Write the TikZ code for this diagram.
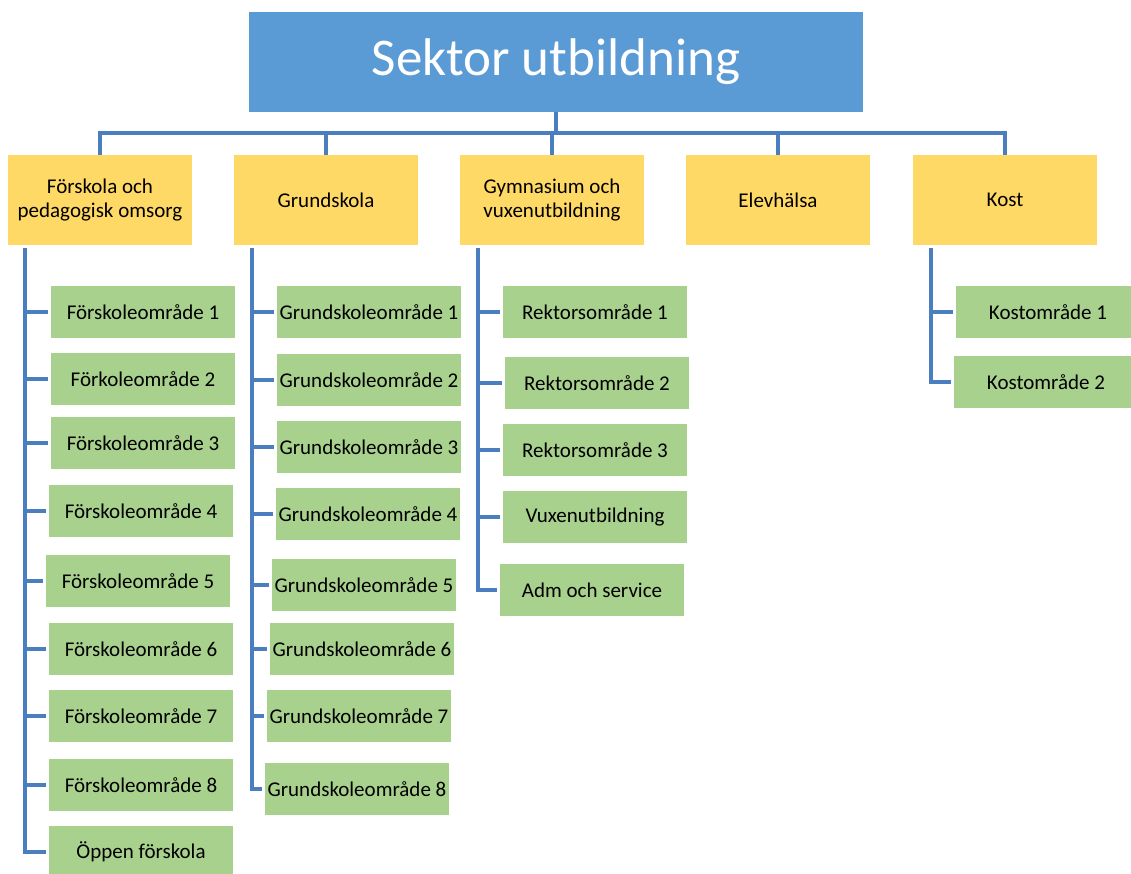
\documentclass[tikz,border=0pt]{standalone}
\usepackage{fontspec}
\setmainfont{Carlito}
\usepackage{tikz}

\definecolor{sektorblue}{RGB}{91,155,213}
\definecolor{enhetgul}{RGB}{255,217,102}
\definecolor{omradegron}{RGB}{169,209,142}
\definecolor{linjeblue}{RGB}{74,126,190}

\begin{document}
\begin{tikzpicture}[x=1pt,y=-1pt,
	sektor/.style={fill=sektorblue,text=white,minimum width=614pt,minimum height=100pt,inner sep=0pt,font=\fontsize{53}{60}\selectfont},
	enhet/.style={fill=enhetgul,minimum width=184pt,minimum height=90pt,inner sep=0pt,align=center,font=\fontsize{21}{24}\selectfont},
	omrade/.style={fill=omradegron,minimum width=184pt,minimum height=52pt,inner sep=0pt,font=\fontsize{21}{24}\selectfont},
	conn/.style={draw=linjeblue,line width=3.3pt,shorten >=2.5pt}]

	\useasboundingbox (0,0) rectangle (1131,874);

	\node[sektor] (top) at (556, 62) {Sektor utbildning};

	\node[enhet] (fsk) at (100, 200) {Förskola och\\pedagogisk omsorg};
	\node[enhet] (gsk) at (326, 200) {Grundskola};
	\node[enhet] (gym) at (552, 200) {Gymnasium och\\vuxenutbildning};
	\node[enhet] (elev) at (778, 200) {Elevhälsa};
	\node[enhet] (kost) at (1005, 200) {Kost};

	\node[omrade] (f1) at (143, 312) {Förskoleområde 1};
	\node[omrade] (f2) at (143, 379) {Förkoleområde 2};
	\node[omrade] (f3) at (143, 443) {Förskoleområde 3};
	\node[omrade] (f4) at (141, 511) {Förskoleområde 4};
	\node[omrade] (f5) at (138, 581) {Förskoleområde 5};
	\node[omrade] (f6) at (141, 649) {Förskoleområde 6};
	\node[omrade] (f7) at (141, 716) {Förskoleområde 7};
	\node[omrade] (f8) at (141, 785) {Förskoleområde 8};
	\node[omrade] (f9) at (141, 852) {Öppen förskola};

	\node[omrade] (g1) at (369, 312) {Grundskoleområde 1};
	\node[omrade] (g2) at (369, 380) {Grundskoleområde 2};
	\node[omrade] (g3) at (369, 447) {Grundskoleområde 3};
	\node[omrade] (g4) at (368, 514) {Grundskoleområde 4};
	\node[omrade] (g5) at (364, 585) {Grundskoleområde 5};
	\node[omrade] (g6) at (362, 649) {Grundskoleområde 6};
	\node[omrade] (g7) at (359, 716) {Grundskoleområde 7};
	\node[omrade] (g8) at (357, 789) {Grundskoleområde 8};

	\node[omrade] (r1) at (595, 312) {Rektorsområde 1};
	\node[omrade] (r2) at (597, 383) {Rektorsområde 2};
	\node[omrade] (r3) at (595, 450) {Rektorsområde 3};
	\node[omrade] (r4) at (595, 517) {Vuxenutbildning};
	\node[omrade] (r5) at (592, 590) {Adm och service};

	\node[omrade] (k1) at (1048, 312) {Kostområde 1};
	\node[omrade] (k2) at (1046, 382) {Kostområde 2};

	\coordinate (bus) at (556, 133);
	\coordinate (fsk-rail) at (25, 248);
	\coordinate (gsk-rail) at (252, 248);
	\coordinate (gym-rail) at (478, 248);
	\coordinate (kost-rail) at (931, 248);

	\path[conn,shorten >=0pt] (top.south) edge (top.south |- bus);
	\draw[conn,shorten >=0pt] (fsk.north) |- (bus) -| (kost.north);
	\path[conn,shorten >=0pt] (gsk.north |- bus) edge (gsk.north);
	\path[conn,shorten >=0pt] (gym.north |- bus) edge (gym.north);
	\path[conn,shorten >=0pt] (elev.north |- bus) edge (elev.north);

	\draw[conn] (fsk-rail) |- (f9.west);
	\path[conn] (f1.west -| fsk-rail) edge (f1.west);
	\path[conn] (f2.west -| fsk-rail) edge (f2.west);
	\path[conn] (f3.west -| fsk-rail) edge (f3.west);
	\path[conn] (f4.west -| fsk-rail) edge (f4.west);
	\path[conn] (f5.west -| fsk-rail) edge (f5.west);
	\path[conn] (f6.west -| fsk-rail) edge (f6.west);
	\path[conn] (f7.west -| fsk-rail) edge (f7.west);
	\path[conn] (f8.west -| fsk-rail) edge (f8.west);

	\draw[conn] (gsk-rail) |- (g8.west);
	\path[conn] (g1.west -| gsk-rail) edge (g1.west);
	\path[conn] (g2.west -| gsk-rail) edge (g2.west);
	\path[conn] (g3.west -| gsk-rail) edge (g3.west);
	\path[conn] (g4.west -| gsk-rail) edge (g4.west);
	\path[conn] (g5.west -| gsk-rail) edge (g5.west);
	\path[conn] (g6.west -| gsk-rail) edge (g6.west);
	\path[conn] (g7.west -| gsk-rail) edge (g7.west);

	\draw[conn] (gym-rail) |- (r5.west);
	\path[conn] (r1.west -| gym-rail) edge (r1.west);
	\path[conn] (r2.west -| gym-rail) edge (r2.west);
	\path[conn] (r3.west -| gym-rail) edge (r3.west);
	\path[conn] (r4.west -| gym-rail) edge (r4.west);

	\draw[conn] (kost-rail) |- (k2.west);
	\path[conn] (k1.west -| kost-rail) edge (k1.west);

\end{tikzpicture}
\end{document}
